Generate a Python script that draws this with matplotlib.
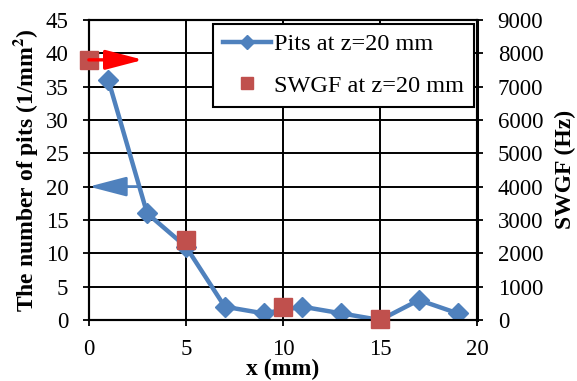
import matplotlib
matplotlib.use('Agg')
import matplotlib.pyplot as plt
from matplotlib.lines import Line2D

plt.rcParams['font.family'] = ['Liberation Serif', 'DejaVu Serif']
plt.rcParams['mathtext.fontset'] = 'stix'

# data
pits_x = [1, 3, 5, 7, 9, 11, 13, 15, 17, 19]
pits_y = [36, 16, 11, 2, 1, 2, 1, 0, 3, 1]
swgf_x = [0, 5, 10, 15]
swgf_y = [7800, 2400, 400, 20]

blue = '#4F81BD'
red = '#C0504D'
fs = 16.5

fig = plt.figure(figsize=(5.77, 3.81), dpi=100)
ax = fig.add_axes([0.154, 0.160, 0.673, 0.788])
ax2 = ax.twinx()

ax.plot(pits_x, pits_y, color=blue, lw=3.2, marker='D', ms=10,
        mec=blue, mfc=blue, zorder=3)
ax2.plot(swgf_x, swgf_y, ls='none', marker='s', ms=13, color=red,
         mec=red, zorder=4, clip_on=False)

ax.set_xlim(0, 20)
ax.set_ylim(0, 45)
ax2.set_ylim(0, 9000)
ax.set_xticks(range(0, 21, 5))
ax.set_yticks(range(0, 46, 5))
ax2.set_yticks(range(0, 9001, 1000))

ax.grid(True, color='black', lw=1.4)
ax.set_axisbelow(True)

for a in (ax, ax2):
    a.tick_params(labelsize=fs, direction='out', length=4.3, width=1.3,
                  color='black', pad=10.5)
    for s in a.spines.values():
        s.set_linewidth(1.5)
ax2.spines['right'].set_linewidth(2.2)
ax.tick_params(axis='x', pad=9.5)

ax.set_xlabel('x (mm)', fontsize=17, fontweight='bold', labelpad=-1)
ax.set_ylabel('The number of pits (1/mm$^\\mathbf{2}$)', fontsize=17,
              fontweight='bold', labelpad=4)
ax2.set_ylabel('SWGF (Hz)', fontsize=17, fontweight='bold', labelpad=8)

# arrows pointing to the axis each series belongs to
ax2.annotate('', xy=(2.8, 39), xytext=(0, 39), xycoords=ax.transData,
             textcoords=ax.transData,
             arrowprops=dict(arrowstyle='-|>,head_length=2.3,head_width=0.6',
                             color='#FF0000', lw=2.4, shrinkA=0, shrinkB=0),
             zorder=6, annotation_clip=False)
ax2.annotate('', xy=(0, 20), xytext=(2.6, 20), xycoords=ax.transData,
             textcoords=ax.transData,
             arrowprops=dict(arrowstyle='-|>,head_length=2.3,head_width=0.6',
                             color=blue, lw=2.0, shrinkA=0, shrinkB=0),
             zorder=2, annotation_clip=False)

handles = [
    Line2D([], [], color=blue, lw=3.2, marker='D', ms=7),
    Line2D([], [], ls='none', marker='s', ms=9, color=red),
]
leg = ax2.legend(handles, ['Pits at z=20 mm', 'SWGF at z=20 mm'],
                 loc='upper right', bbox_to_anchor=(0.997, 0.995),
                 fontsize=17.5, frameon=True, fancybox=False, framealpha=1,
                 edgecolor='black', handlelength=2.0, borderpad=0.4,
                 labelspacing=0.8, handletextpad=0.1, borderaxespad=0.1)
leg.get_frame().set_linewidth(1.5)

fig.savefig('out.png', dpi=100)
